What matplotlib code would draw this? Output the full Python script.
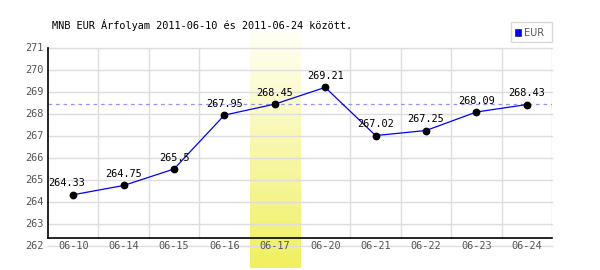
import matplotlib
matplotlib.use('Agg')
import matplotlib.pyplot as plt
import numpy as np

dates = ['06-10', '06-14', '06-15', '06-16', '06-17', '06-20', '06-21', '06-22', '06-23', '06-24']
rates = [264.33, 264.75, 265.5, 267.95, 268.45, 269.21, 267.02, 267.25, 268.09, 268.43]
labels = ['264.33', '264.75', '265.5', '267.95', '268.45', '269.21', '267.02', '267.25', '268.09', '268.43']
highlight = 4  # 06-17
ref_rate = 268.45
yticks = list(range(262, 272))

mono = 'DejaVu Sans Mono'

fig = plt.figure(figsize=(6, 2.7), dpi=100)
ax = fig.add_axes([0.08, 0.0889, 0.84, 0.7333])
x = np.arange(len(dates))
ax.set_xlim(-0.5, len(dates) - 0.5)
ax.set_ylim(262, 271)
for s in ax.spines.values():
    s.set_visible(False)
ax.set_xticks([])
ax.set_yticks([])

base = 262.36  # black x axis line sits a little above the 262 grid line

# highlighted day, pale-to-yellow gradient band
grad = np.linspace(0, 1, 100).reshape(-1, 1)
top = np.array([255, 255, 245]) / 255
bot = np.array([240, 240, 96]) / 255
img = top + (bot - top) * grad[:, :, None] * np.ones((1, 1, 3))
ax.imshow(img, extent=[highlight - 0.5, highlight + 0.5, 261.0, 271.77], aspect='auto',
          origin='upper', clip_on=False, zorder=0)

# grid
for yv in yticks:
    ax.plot([-0.5, len(dates) - 0.5], [yv, yv], color='#dddddd', lw=1, zorder=1, clip_on=False)
for xv in np.arange(0.5, len(dates), 1):
    if abs(xv - (highlight - 0.5)) < 0.01 or abs(xv - (highlight + 0.5)) < 0.01:
        continue
    ax.plot([xv, xv], [base, 271], color='#dddddd', lw=1, zorder=1)

# axes lines
ax.plot([-0.5, -0.5], [base, 271], color='black', lw=1.2, zorder=3, clip_on=False)
ax.plot([-0.5, len(dates) - 0.5], [base, base], color='black', lw=1.2, zorder=3, clip_on=False)

# reference line
ax.plot([-0.5, len(dates) - 0.5], [ref_rate, ref_rate], color='#9494f0', lw=0.9,
        dashes=(3, 3), zorder=2)

# series
ax.plot(x, rates, color='blue', lw=0.9, zorder=4)
ax.plot(x, rates, 'o', color='black', ms=4.6, zorder=5)
for i, (xi, yi) in enumerate(zip(x, rates)):
    dx = -5 if i == 0 else 0
    ax.annotate(labels[i], (xi, yi), xytext=(dx, 4.5), textcoords='offset points',
                ha='center', va='bottom', fontsize=7.4, family=mono, color='black', zorder=6)

# tick labels
for yv in yticks:
    ax.annotate(str(yv), (-0.5, yv), xytext=(-3, 0), textcoords='offset points',
                ha='right', va='center', fontsize=7.4, family=mono, color='#555555',
                annotation_clip=False)
for xi, d in zip(x, dates):
    ax.text(xi, 262.0, d, ha='center', va='center', fontsize=7.4, family=mono,
            color='#555555', zorder=6)

fig.text(52 / 600, 1 - 25 / 270, 'MNB EUR Árfolyam 2011-06-10 és 2011-06-24 között.',
         ha='left', va='center', fontsize=7.4, family=mono, color='black')

# legend box
lx0, ly0, lw_, lh_ = 511 / 600, 1 - 42 / 270, 41 / 600, 20 / 270
fig.patches.append(plt.Rectangle((lx0, ly0), lw_, lh_, transform=fig.transFigure,
                                 facecolor='white', edgecolor='#d8d8d8', lw=1))
fig.patches.append(plt.Rectangle((515 / 600, 1 - 35.5 / 270), 6 / 600, 6 / 270,
                                 transform=fig.transFigure, facecolor='blue',
                                 edgecolor='#333366', lw=0.6))
fig.text(524 / 600, 1 - 32.5 / 270, 'EUR', ha='left', va='center', fontsize=7,
         color='#555555')

fig.savefig('out.png', dpi=100)
